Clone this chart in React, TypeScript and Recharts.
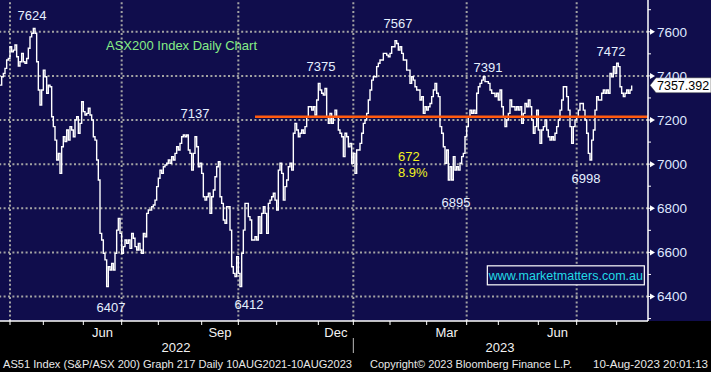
import React from "react";
import { LineChart, Line, XAxis, YAxis, ReferenceLine, ReferenceDot } from "recharts";

// ASX200 daily closes, one value per trading day
const closeMarAug22 = [
  7358, 7396, 7411, 7434, 7472, 7479, 7532, 7509, 7517, 7540,
  7487, 7445, 7464, 7502, 7464, 7457, 7479, 7525, 7577, 7593,
  7615, 7593, 7464, 7336, 7268, 7336, 7426, 7396, 7321, 7358,
  7351, 7215, 7170, 7109, 7019, 7049, 6958, 7079, 7124, 7102,
  7155, 7109, 7170, 7155, 7124, 7200, 7215, 7140, 7185, 7283,
  7238, 7223, 7230, 7253, 7223, 7200, 7124, 7109, 7019, 6928,
  6686, 6656, 6596, 6566, 6445, 6535, 6520, 6550, 6520, 6596,
  6701, 6754, 6686, 6596, 6626, 6656, 6641, 6656, 6618, 6686,
  6664, 6626, 6611, 6641, 6611, 6596, 6686, 6671, 6777, 6792,
  6792, 6807, 6815, 6837, 6898, 6936, 6973, 6958, 6988, 6996,
];
const closeAugDec22 = [
  7004, 7019, 7004, 7034, 7019, 7049, 7079, 7064, 7094, 7124,
  7132, 7124, 7132, 7064, 7049, 6973, 7049, 7124, 7079, 6988,
  7004, 6958, 6852, 6837, 6852, 6868, 6777, 6852, 6883, 6943,
  6988, 7011, 6852, 6822, 6747, 6732, 6807, 6807, 6701, 6535,
  6505, 6490, 6581, 6505, 6445, 6596, 6701, 6822, 6822, 6762,
  6747, 6656, 6656, 6671, 6656, 6762, 6686, 6777, 6807, 6777,
  6686, 6822, 6837, 6852, 6868, 6837, 6792, 6973, 7004, 6958,
  6837, 6898, 6928, 6988, 7004, 6973, 7140, 7185, 7155, 7124,
  7140, 7155, 7140, 7170, 7215, 7260, 7260, 7245, 7260, 7223,
  7291, 7366, 7336, 7321, 7313, 7343,
];
const closeDecApr23 = [
  7215, 7185, 7230, 7185, 7215, 7245, 7215, 7155, 7140, 7124,
  7034, 7140, 7124, 7079, 7094, 7004, 7049, 6958, 7064, 7064,
  7094, 7140, 7185, 7200, 7230, 7291, 7336, 7381, 7396, 7396,
  7442, 7457, 7472, 7472, 7502, 7502, 7494, 7487, 7502, 7532,
  7532, 7559, 7547, 7517, 7532, 7502, 7472, 7472, 7426, 7426,
  7366, 7396, 7381, 7351, 7336, 7336, 7291, 7306, 7230, 7260,
  7245, 7260, 7275, 7306, 7336, 7366, 7321, 7306, 7170, 7140,
  7079, 7004, 7064, 6928, 6988, 6928, 7034, 6973, 6988, 6973,
  7004, 7034, 7049, 7124, 7170, 7215, 7245, 7230, 7245, 7230,
  7321, 7351, 7366, 7381, 7396, 7374,
];
const closeAprAug23 = [
  7374, 7366, 7336, 7321, 7321, 7306, 7321, 7291, 7336, 7260,
  7215, 7170, 7200, 7230, 7291, 7260, 7260, 7245, 7260, 7245,
  7260, 7185, 7230, 7275, 7260, 7291, 7260, 7200, 7140, 7170,
  7245, 7155, 7094, 7155, 7170, 7200, 7155, 7124, 7109, 7124,
  7109, 7140, 7170, 7200, 7245, 7291, 7351, 7351, 7306, 7245,
  7170, 7094, 7170, 7200, 7215, 7245, 7275, 7275, 7245, 7200,
  7140, 7049, 7019, 7109, 7155, 7245, 7306, 7291, 7291, 7321,
  7336, 7321, 7336, 7321, 7411, 7396, 7442, 7411, 7457, 7442,
  7351, 7321, 7306, 7321, 7336, 7321, 7336, 7357,
];
const lastPrice = 7357.392;

// x axis: trading-day index of each month start, quarter start and labels
const monthStarts = [6, 26, 50, 73, 95, 121, 143, 166, 191, 212, 234, 256, 280, 299, 323, 346, 370];
const quarterStarts = [6, 73, 143, 212, 280, 346];
const monthLabels = [
  { i: 61.5, label: "Jun" },
  { i: 132, label: "Sep" },
  { i: 201.5, label: "Dec" },
  { i: 268, label: "Mar" },
  { i: 334.5, label: "Jun" },
];
const yearLabels = [
  { i: 105.6, label: "2022" },
  { i: 300, label: "2023" },
];
const yearBreak = 212;

const priceTicks = [6300, 6400, 6500, 6600, 6700, 6800, 6900, 7000, 7100, 7200, 7300, 7400, 7500, 7600, 7700];
const gridLevels = [6400, 6600, 6800, 7000, 7200, 7400, 7600];

const supportLevel = 7215;
const supportFrom = 153;

const swingLabels = [
  { i: 19.2, v: 7676, text: "7624" },
  { i: 117, v: 7232, text: "7137" },
  { i: 192.6, v: 7445, text: "7375" },
  { i: 238.8, v: 7640, text: "7567" },
  { i: 292.8, v: 7440, text: "7391" },
  { i: 366.6, v: 7513, text: "7472" },
  { i: 66.6, v: 6352, text: "6407" },
  { i: 149.4, v: 6366, text: "6412" },
  { i: 273.6, v: 6828, text: "6895" },
  { i: 351.6, v: 6937, text: "6998" },
];
const moveLabels = [
  { i: 238.8, v: 7037, text: "672" },
  { i: 238.8, v: 6964, text: "8.9%" },
];

const data = [...closeMarAug22, ...closeAugDec22, ...closeDecApr23, ...closeAprAug23].map((close, i) => ({ i, close }));

const FONT = "'Liberation Sans', Arial, sans-serif";
const NAVY = "#100d4c";
const GRID = "#a3a3a3";

const xTicks = [...monthStarts, ...monthLabels.map((m) => m.i), ...yearLabels.map((y) => y.i)].sort((a, b) => a - b);

const TimeTick = (props: any) => {
  const { x, y, payload } = props;
  const v = payload.value;
  const month = monthLabels.find((m) => m.i === v);
  const year = yearLabels.find((m) => m.i === v);
  return (
    <g>
      {monthStarts.includes(v) && <line x1={x} x2={x} y1={y} y2={y + 4} stroke="#fff" strokeWidth={1} />}
      {v === yearBreak && <line x1={x} x2={x} y1={y + 17} y2={y + 32} stroke="#bbb" strokeWidth={1} />}
      {month && (
        <text x={x} y={y + 11} dy=".35em" textAnchor="middle" fill="#f2f2f2" fontSize={13} fontFamily={FONT}>
          {month.label}
        </text>
      )}
      {year && (
        <text x={x} y={y + 26} dy=".35em" textAnchor="middle" fill="#f2f2f2" fontSize={13} fontFamily={FONT}>
          {year.label}
        </text>
      )}
    </g>
  );
};

const PriceTick = (props: any) => {
  const { x, y, payload } = props;
  const major = payload.value % 200 === 0;
  if (!major) return <line x1={x} x2={x + 3} y1={y} y2={y} stroke="#fff" strokeWidth={1} />;
  return (
    <g>
      <line x1={x} x2={x + 4} y1={y} y2={y} stroke="#fff" strokeWidth={1} />
      <path d={`M${x + 2},${y - 3}L${x + 7},${y}L${x + 2},${y + 3}Z`} fill="#fff" />
      <text x={x + 9} y={y} dy=".36em" fill="#dfe8ff" fontSize={13.5} fontFamily={FONT}>
        {payload.value}
      </text>
    </g>
  );
};

const PriceTag = (props: any) => {
  const { viewBox } = props;
  const x = viewBox.x + viewBox.width;
  const y = viewBox.y;
  return (
    <g>
      <path d={`M${x + 2},${y} L${x + 8},${y - 7.5} L${x + 63},${y - 7.5} L${x + 63},${y + 7.5} L${x + 8},${y + 7.5} Z`} fill="#fff" stroke="#333" strokeWidth={0.5} />
      <text x={x + 9} y={y} dy=".36em" fill="#000" fontSize={12.5} fontFamily={FONT}>
        {lastPrice}
      </text>
    </g>
  );
};

const labelShape = (text: string, color: string, anchor: "middle" | "start", size = 13) => (p: any) => (
  <text x={p.cx} y={p.cy} dy=".36em" textAnchor={anchor} fill={color} fontSize={size} fontFamily={FONT}>
    {text}
  </text>
);

const siteShape = (p: any) => (
  <g>
    <rect x={p.cx - 78.5} y={p.cy - 9.5} width={157} height={19} fill={NAVY} stroke="#fff" strokeWidth={1.2} />
    <text x={p.cx} y={p.cy} dy=".36em" textAnchor="middle" fill="#22dbe6" fontSize={12.5} fontFamily={FONT}>
      www.marketmatters.com.au
    </text>
  </g>
);

export default function App() {
  return (
    <div style={{ position: "absolute", left: 0, top: 0, width: 711, height: 372, background: "#000", overflow: "hidden" }}>
      <div style={{ position: "absolute", left: 0, top: 0, width: 711, height: 321, background: NAVY }} />
      <div style={{ position: "absolute", left: 0, top: 0 }}>
        <LineChart width={711} height={372} data={data} margin={{ top: 0, right: 0, bottom: 0, left: 0 }}>
          <XAxis
            dataKey="i"
            type="number"
            domain={[0, 388.8]}
            allowDataOverflow
            ticks={xTicks}
            interval={0}
            tickSize={0}
            tickMargin={0}
            height={51}
            tick={(p: any) => <TimeTick {...p} />}
            axisLine={{ stroke: "#fff", strokeWidth: 1.5 }}
          />
          <YAxis
            orientation="right"
            type="number"
            domain={[6289, 7744]}
            allowDataOverflow
            ticks={priceTicks}
            interval={0}
            tickSize={0}
            tickMargin={0}
            width={63}
            tick={(p: any) => <PriceTick {...p} />}
            axisLine={{ stroke: "#fff", strokeWidth: 1.5 }}
          />
          {gridLevels.map((v) => (
            <ReferenceLine key={"h" + v} y={v} stroke={GRID} strokeWidth={2} strokeDasharray="2 2.4" />
          ))}
          {quarterStarts.map((q) => (
            <ReferenceLine key={"v" + q} x={q} stroke={GRID} strokeWidth={2} strokeDasharray="2 2.4" />
          ))}
          <Line
            type="stepAfter"
            dataKey="close"
            stroke="#fff"
            strokeWidth={1.4}
            dot={false}
            activeDot={false}
            isAnimationActive={false}
          />
          <ReferenceLine
            segment={[
              { x: supportFrom, y: supportLevel },
              { x: 388.8, y: supportLevel },
            ]}
            stroke="#ff5a0f"
            strokeWidth={2.5}
          />
          <ReferenceLine y={lastPrice} stroke="none" label={(p: any) => <PriceTag {...p} />} />
          {swingLabels.map((s) => (
            <ReferenceDot key={s.text} x={s.i} y={s.v} r={0} shape={labelShape(s.text, "#e6f0ff", "middle")} />
          ))}
          {moveLabels.map((s) => (
            <ReferenceDot key={s.text} x={s.i} y={s.v} r={0} shape={labelShape(s.text, "#f2f21e", "start")} />
          ))}
          <ReferenceDot x={63.6} y={7540} r={0} shape={labelShape("ASX200 Index Daily Chart", "#86ee86", "start")} />
          <ReferenceDot x={339.5} y={6496} r={0} shape={siteShape} />
        </LineChart>
      </div>
      <svg width={711} height={372} style={{ position: "absolute", left: 0, top: 0, pointerEvents: "none" }}>
        <g fill="#e8e8e8" fontSize={11.5} fontFamily={FONT}>
          <text x={3} y={367.5} textLength={349} lengthAdjust="spacingAndGlyphs">
            AS51 Index (S&amp;P/ASX 200) Graph 217  Daily 10AUG2021-10AUG2023
          </text>
          <text x={370} y={367.5} textLength={202} lengthAdjust="spacingAndGlyphs">
            Copyright© 2023 Bloomberg Finance L.P.
          </text>
          <text x={593} y={367.5} textLength={115} lengthAdjust="spacingAndGlyphs">
            10-Aug-2023 20:01:13
          </text>
        </g>
      </svg>
    </div>
  );
}
